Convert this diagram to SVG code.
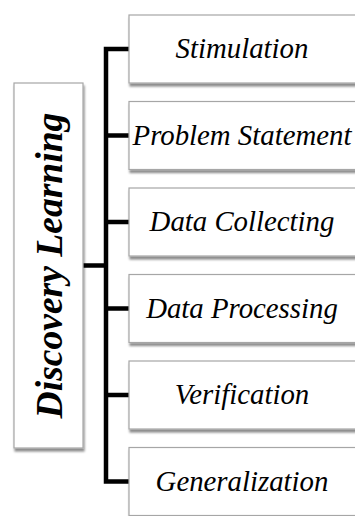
<svg xmlns="http://www.w3.org/2000/svg" width="355" height="516" viewBox="0 0 355 516">
<defs>
<filter id="sh" x="-10%" y="-10%" width="130%" height="130%">
<feDropShadow dx="1" dy="3" stdDeviation="1.2" flood-color="#000" flood-opacity="0.45"/>
</filter>
</defs>
<style>
.box{fill:#fff;stroke:#a6a6a6;stroke-width:1.2;filter:url(#sh)}
.lbl{font-family:"Liberation Serif","Times New Roman",serif;font-style:italic;font-size:28.8px;fill:#000;text-anchor:middle}
.main{font-family:"Liberation Serif","Times New Roman",serif;font-style:italic;font-weight:bold;font-size:37.6px;fill:#000;text-anchor:middle}
.con{fill:none;stroke:#000;stroke-width:4.5;stroke-linejoin:miter}
</style>
<rect width="355" height="516" fill="#fff"/>
<g id="connectors">
<path class="con" d="M129 49H106V481.5H129"/>
<path class="con" d="M106 135.5H129M106 222H129M106 308.5H129M106 395H129M83 265.5H106"/>
</g>
<g id="discovery-learning">
<rect class="box" x="14" y="83" width="69" height="365"/>
<text class="main" transform="translate(62,265.5) rotate(-90)">Discovery Learning</text>
</g>
<g id="stimulation">
<rect class="box" x="129" y="15" width="240" height="68"/>
<text class="lbl" x="242" y="58">Stimulation</text>
</g>
<g id="problem-statement">
<rect class="box" x="129" y="101.5" width="240" height="68"/>
<text class="lbl" x="242" y="144.5">Problem Statement</text>
</g>
<g id="data-collecting">
<rect class="box" x="129" y="188" width="240" height="68"/>
<text class="lbl" x="242" y="231">Data Collecting</text>
</g>
<g id="data-processing">
<rect class="box" x="129" y="274.5" width="240" height="68"/>
<text class="lbl" x="242" y="317.5">Data Processing</text>
</g>
<g id="verification">
<rect class="box" x="129" y="361" width="240" height="68"/>
<text class="lbl" x="242" y="404">Verification</text>
</g>
<g id="generalization">
<rect class="box" x="129" y="447.5" width="240" height="68"/>
<text class="lbl" x="242" y="490.5">Generalization</text>
</g>
</svg>
